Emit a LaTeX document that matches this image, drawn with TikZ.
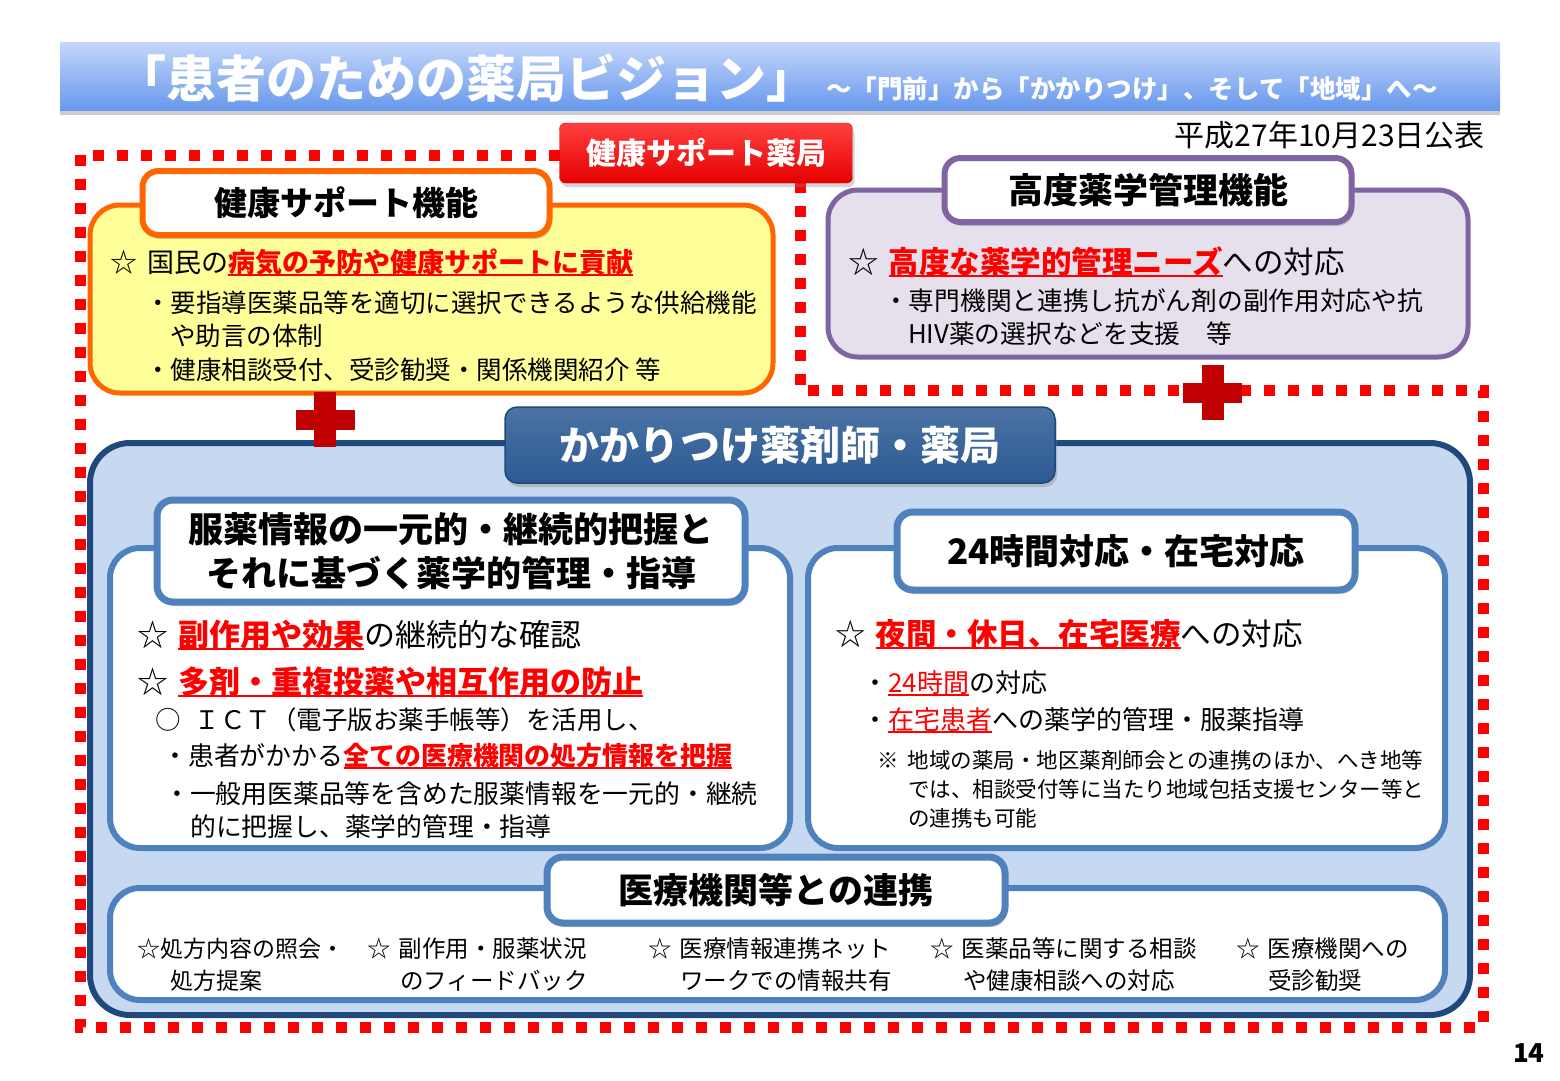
\documentclass[tikz,border=0pt]{standalone}
\usepackage{fontspec}
\setmainfont{Noto Sans CJK JP}
\usetikzlibrary{shadows}

\definecolor{dotred}{RGB}{255,0,0}
\definecolor{crossred}{RGB}{192,0,0}
\definecolor{orangeline}{RGB}{255,102,0}
\definecolor{paleyellow}{RGB}{255,255,153}
\definecolor{purpleline}{RGB}{128,100,162}
\definecolor{palelilac}{RGB}{230,224,236}
\definecolor{navyline}{RGB}{31,73,125}
\definecolor{paleblue}{RGB}{198,217,241}
\definecolor{midblue}{RGB}{79,129,189}
\definecolor{tabblue}{RGB}{44,90,147}
\definecolor{barlight}{RGB}{196,215,250}
\definecolor{bardark}{RGB}{104,152,236}

\newcommand\pxsize[2]{\fontsize{#1pt}{#2pt}\selectfont}
\newcommand\ulred[1]{\begingroup\setbox0=\hbox{#1}\rlap{\textcolor{red}{\rule[-4pt]{\wd0}{2pt}}}\textcolor{red}{#1}\endgroup}

\begin{document}
\begin{tikzpicture}[x=1pt,y=-1pt,
  txt/.style={anchor=base west, inner sep=0pt},
  tabbox/.style={draw=#1, line width=6pt, fill=white, rounded corners=16pt, inner sep=0pt,
    drop shadow={opacity=0.35, shadow xshift=2pt, shadow yshift=-4pt}},
  panel/.style={line width=5pt, rounded corners=30pt},
  reddots/.style={dotred, line width=11pt, dash pattern=on 11pt off 13pt}]
\useasboundingbox (0,0) rectangle (1560,1080);
% title bar
\shade[top color=barlight, bottom color=bardark, drop shadow={opacity=0.4, shadow xshift=0pt, shadow yshift=-5pt}] (60,42) rectangle (1500,110);
\node[txt, white, font=\pxsize{50}{50}\bfseries] (title) at (116,97) {「患者のための薬局ビジョン」};
\node[txt, white, font=\pxsize{25.5}{25.5}\bfseries] (subtitle) at (826,98) {～「門前」から「かかりつけ」、そして「地域」へ～};
\node[anchor=base east, inner sep=0pt, font=\pxsize{30}{30}] (date) at (1485,146) {平成27年10月23日公表};
% dotted frame
\draw[reddots] (800,155) -- (80,155) -- (80,1027) -- (1483,1027) -- (1483,390) -- (800,390) -- cycle;
\node[top color=red!75!white, bottom color=red!90!black, draw=red!80!black, rounded corners=6pt, minimum width=293pt, minimum height=60pt, text=white, font=\pxsize{30}{30}\bfseries, drop shadow={opacity=0.35, shadow xshift=2pt, shadow yshift=-4pt}] (kenkobox) at (706,153) {健康サポート薬局};

% health support
\draw[panel, draw=orangeline, fill=paleyellow] (90,205) rectangle (773,393);
\node[tabbox=orangeline, minimum width=407pt, minimum height=64pt, font=\pxsize{33}{33}\bfseries] (kenkotab) at (346,203) {健康サポート機能};
\node[txt, font=\pxsize{27}{27}] (kenko1) at (110,272) {☆\hspace{10pt}国民の\ulred{\bfseries 病気の予防や健康サポートに貢献}};
\node[txt, font=\pxsize{25.5}{25.5}] (kenko2) at (145,312) {・要指導医薬品等を適切に選択できるような供給機能};
\node[txt, font=\pxsize{25.5}{25.5}] (kenko3) at (170,345) {や助言の体制};
\node[txt, font=\pxsize{25.5}{25.5}] (kenko4) at (145,379) {・健康相談受付、受診勧奨・関係機関紹介 等};

% advanced management
\draw[panel, draw=purpleline, fill=palelilac] (828,190) rectangle (1468,357);
\node[tabbox=purpleline, minimum width=407pt, minimum height=64pt, font=\pxsize{35}{35}\bfseries] (kodotab) at (1148,190) {高度薬学管理機能};
\node[txt, font=\pxsize{30.5}{30.5}] (kodo1) at (848,273) {☆\hspace{10pt}\ulred{\bfseries 高度な薬学的管理ニーズ}への対応};
\node[txt, font=\pxsize{25.7}{25.7}] (kodo2) at (883,310) {・専門機関と連携し抗がん剤の副作用対応や抗};
\node[txt, font=\pxsize{25.7}{25.7}] (kodo3) at (908,343) {HIV薬の選択などを支援　等};

% kakaritsuke
\draw[navyline, line width=6pt, fill=paleblue, rounded corners=40pt] (90,443) rectangle (1470,1015);
\fill[crossred] (314,392) rectangle (336,447);
\fill[crossred] (296,410) rectangle (355,430);
\fill[crossred] (1202,365) rectangle (1224,420);
\fill[crossred] (1183,383) rectangle (1242,403);
\node[top color=tabblue!85!white, bottom color=tabblue, draw=navyline, line width=1.5pt, rounded corners=12pt, minimum width=550pt, minimum height=76pt, text=white, font=\pxsize{40}{40}\bfseries, drop shadow={opacity=0.35, shadow xshift=2pt, shadow yshift=-4pt}] (kakaritab) at (780,445) {かかりつけ薬剤師・薬局};

% left box
\draw[panel, draw=midblue, line width=6pt, fill=white] (110,548) rectangle (790,848);
\node[tabbox=midblue, line width=7pt, minimum width=588pt, minimum height=102pt, align=center, font=\pxsize{35}{44}\bfseries] (fukuyakutab) at (451,551) {服薬情報の一元的・継続的把握と\\それに基づく薬学的管理・指導};
\node[txt, font=\pxsize{31}{31}] (fukuyaku1) at (137,646) {☆\hspace{10pt}\ulred{\bfseries 副作用や効果}の継続的な確認};
\node[txt, font=\pxsize{31}{31}] (fukuyaku2) at (137,693) {☆\hspace{10pt}\ulred{\bfseries 多剤・重複投薬や相互作用の防止}};
\node[txt, font=\pxsize{25.5}{25.5}] (fukuyaku3) at (155,729) {○\hspace{14pt}ＩＣＴ（電子版お薬手帳等）を活用し、};
\node[txt, font=\pxsize{25.9}{25.9}] (fukuyaku4) at (162,765) {・患者がかかる\ulred{\bfseries 全ての医療機関の処方情報を把握}};
\node[txt, font=\pxsize{25.8}{25.8}] (fukuyaku5) at (164,803) {・一般用医薬品等を含めた服薬情報を一元的・継続};
\node[txt, font=\pxsize{25.8}{25.8}] (fukuyaku6) at (190,836) {的に把握し、薬学的管理・指導};

% right box
\draw[panel, draw=midblue, line width=6pt, fill=white] (808,548) rectangle (1445,848);
\node[tabbox=midblue, line width=7pt, minimum width=458pt, minimum height=78pt, font=\pxsize{35}{35}\bfseries] (zaitakutab) at (1126,551) {24時間対応・在宅対応};
\node[txt, font=\pxsize{30.5}{30.5}] (zaitaku1) at (835,645) {☆\hspace{10pt}\ulred{\bfseries 夜間・休日、在宅医療}への対応};
\node[txt, font=\pxsize{26}{26}] (zaitaku2) at (862,692) {・\ulred{24時間}の対応};
\node[txt, font=\pxsize{26}{26}] (zaitaku3) at (862,729) {・\ulred{在宅患者}への薬学的管理・服薬指導};
\node[txt, font=\pxsize{21.5}{21.5}] (zaitaku4) at (877,768) {※\hspace{9pt}地域の薬局・地区薬剤師会との連携のほか、へき地等};
\node[txt, font=\pxsize{21.5}{21.5}] (zaitaku5) at (908,797) {では、相談受付等に当たり地域包括支援センター等と};
\node[txt, font=\pxsize{21.5}{21.5}] (zaitaku6) at (908,826) {の連携も可能};

% bottom box
\draw[panel, draw=midblue, line width=6pt, fill=white] (110,888) rectangle (1445,1000);
\node[tabbox=midblue, line width=7pt, minimum width=458pt, minimum height=66pt, font=\pxsize{35}{35}\bfseries] (renkeitab) at (776,890) {医療機関等との連携};
\node[txt, font=\pxsize{23}{23}] (renkei1a) at (137,957) {☆処方内容の照会・};
\node[txt, font=\pxsize{23}{23}] (renkei1b) at (170,989) {処方提案};
\node[txt, font=\pxsize{23.5}{23.5}] (renkei2a) at (367,957) {☆\hspace{8pt}副作用・服薬状況};
\node[txt, font=\pxsize{23.5}{23.5}] (renkei2b) at (400,989) {のフィードバック};
\node[txt, font=\pxsize{23.5}{23.5}] (renkei3a) at (648,957) {☆\hspace{8pt}医療情報連携ネット};
\node[txt, font=\pxsize{23.5}{23.5}] (renkei3b) at (680,989) {ワークでの情報共有};
\node[txt, font=\pxsize{23.5}{23.5}] (renkei4a) at (930,957) {☆\hspace{8pt}医薬品等に関する相談};
\node[txt, font=\pxsize{23.5}{23.5}] (renkei4b) at (963,989) {や健康相談への対応};
\node[txt, font=\pxsize{23.5}{23.5}] (renkei5a) at (1236,957) {☆\hspace{8pt}医療機関への};
\node[txt, font=\pxsize{23.5}{23.5}] (renkei5b) at (1268,989) {受診勧奨};

\node[anchor=base east, inner sep=0pt, font=\pxsize{26}{26}\bfseries] (pagenum) at (1545,1062) {14};
\end{tikzpicture}
\end{document}
